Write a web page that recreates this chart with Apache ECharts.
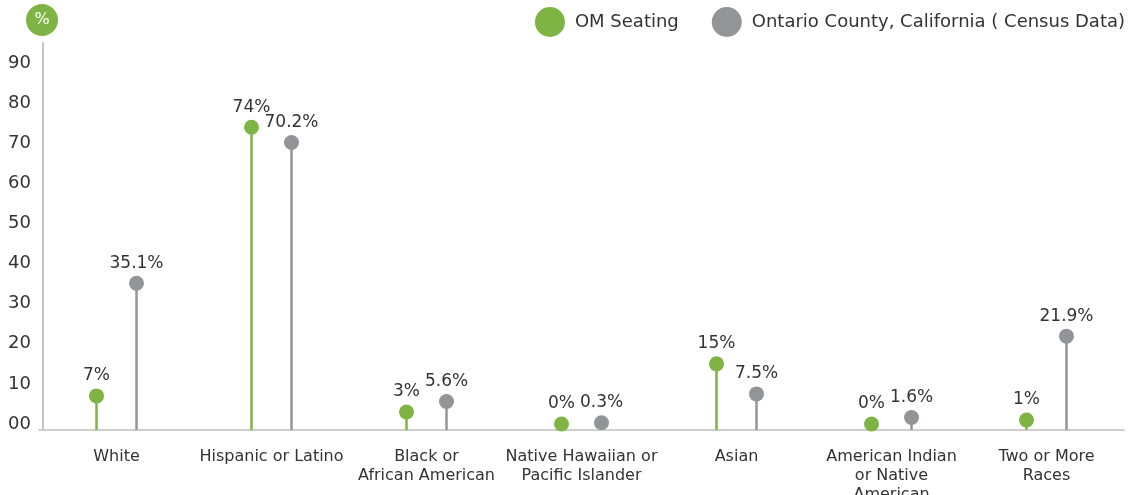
<!DOCTYPE html>
<html>
<head>
<meta charset="utf-8">
<script src="https://cdn.jsdelivr.net/npm/echarts@6/dist/echarts.min.js"></script>
<style>
    html, body { margin: 0; padding: 0; background: #fff; }
    #main { width: 1134px; height: 495px; }
</style>
</head>
<body>
<div id="main"></div>
<script>
var categories = ['White', 'Hispanic or Latino', 'Black or\nAfrican American', 'Native Hawaiian or\nPacific Islander',
    'Asian', 'American Indian\nor Native\nAmerican', 'Two or More\nRaces'];
var omSeating = [7, 74, 3, 0, 15, 0, 1];
var censusData = [35.1, 70.2, 5.6, 0.3, 7.5, 1.6, 21.9];
var yTicks = [0, 10, 20, 30, 40, 50, 60, 70, 80, 90];

var GREEN = '#7db443';
var GREY = '#939497';
var TEXT = '#333333';
var FONT = '"DejaVu Sans", sans-serif';
var Y_MIN = -1.5;
var Y_MAX = 95;

// stem + dot + label, shifted left/right of the category centre
var lollipop = function (dx, color) {
    return function (params, api) {
        var p = api.coord([api.value(0), api.value(1)]);
        var b = api.coord([api.value(0), Y_MIN]);
        var x = p[0] + dx;
        return {
            type: 'group',
            children: [
                {type: 'line', shape: {x1: x, y1: b[1], x2: x, y2: p[1]}, style: {stroke: color, lineWidth: 2.5}},
                {type: 'circle', shape: {cx: x, cy: p[1], r: 7.5}, style: {fill: color}},
                {
                    type: 'text', x: x, y: p[1] - 20,
                    style: {text: api.value(1) + '%', align: 'center', verticalAlign: 'middle', fill: TEXT, font: '17px ' + FONT}
                }
            ]
        };
    };
};

var toData = function (arr) {
    var out = [];
    for (var i = 0; i < arr.length; i++) {
        out.push([i, arr[i]]);
    }
    return out;
};

var myChart = echarts.init(document.getElementById('main'));
var option = {
    animation: false,
    textStyle: {fontFamily: FONT},
    grid: {left: 39, right: 10, top: 43, bottom: 65, outerBoundsMode: 'none', containLabel: false},
    legend: {
        right: 4,
        top: 2,
        icon: 'circle',
        itemWidth: 30,
        itemHeight: 30,
        itemGap: 33,
        textStyle: {fontSize: 18, color: TEXT, padding: [0, 0, 0, 5]},
        data: [
            {name: 'OM Seating', itemStyle: {color: GREEN}},
            {name: 'Ontario County, California ( Census Data)', itemStyle: {color: GREY}}
        ]
    },
    graphic: [
        {type: 'circle', shape: {cx: 42, cy: 20, r: 16}, style: {fill: GREEN}},
        {type: 'text', x: 42, y: 20, style: {text: '%', fill: '#fff', font: '16px ' + FONT, align: 'center', verticalAlign: 'middle'}}
    ],
    xAxis: {
        type: 'category',
        data: categories,
        axisLine: {onZero: false, lineStyle: {color: '#cfcfcf', width: 2}},
        axisTick: {show: false},
        axisLabel: {color: TEXT, fontSize: 16, margin: 17, lineHeight: 19, interval: 0}
    },
    yAxis: {
        type: 'value',
        min: Y_MIN,
        max: Y_MAX,
        offset: -4,
        splitLine: {show: false},
        axisTick: {show: false},
        axisLine: {show: true, lineStyle: {color: '#c4c4c4', width: 2}},
        axisLabel: {
            color: TEXT,
            fontSize: 18,
            margin: 12,
            customValues: yTicks,
            formatter: function (v) {
                return v === 0 ? '00' : String(v);
            }
        }
    },
    series: [
        {
            name: 'OM Seating',
            type: 'custom',
            itemStyle: {color: GREEN},
            encode: {x: 0, y: 1},
            renderItem: lollipop(-20, GREEN),
            data: toData(omSeating)
        },
        {
            name: 'Ontario County, California ( Census Data)',
            type: 'custom',
            itemStyle: {color: GREY},
            encode: {x: 0, y: 1},
            renderItem: lollipop(20, GREY),
            data: toData(censusData)
        }
    ]
};
myChart.setOption(option);
</script>
</body>
</html>
